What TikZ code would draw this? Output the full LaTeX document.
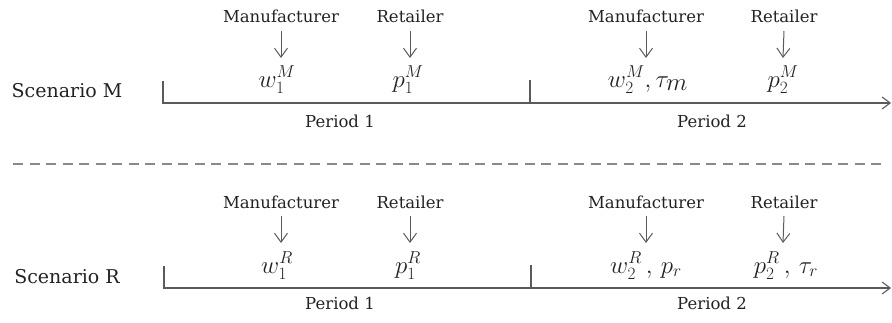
\documentclass[tikz,border=0pt]{standalone}
\usepackage{fontspec}
\setmainfont{DejaVu Serif}
\usetikzlibrary{arrows.meta}
\definecolor{linegray}{HTML}{5A5A5A}
\definecolor{dashgray}{HTML}{8A8A8A}
\definecolor{txt}{HTML}{222222}
\begin{document}
\begin{tikzpicture}[x=1pt,y=-1pt,
  lbl/.style={inner sep=0pt,text=txt,font=\fontsize{16.5}{20}\selectfont},
  scen/.style={inner sep=0pt,text=txt,font=\fontsize{19}{22}\selectfont},
  mth/.style={inner sep=0pt,text=txt,anchor=base,font=\fontsize{23}{26}\selectfont},
  tl/.style={draw=linegray,line width=1.1pt},
  dn/.style={draw=linegray,line width=1pt,-{Straight Barb[length=9pt,width=13pt,line width=1pt]}},
  hd/.style={-{Straight Barb[length=8pt,width=12pt,line width=1.1pt]}}]
\useasboundingbox (0,0) rectangle (892,322);
% ---------- Scenario M ----------
\node[scen] (sm) at (67,91) {Scenario M};
\coordinate (m0) at (163,103);
\coordinate (m0t) at (163,81);
\coordinate (m1) at (530,103);
\coordinate (m1t) at (530,80);
\coordinate (mend) at (891,103);
\draw[tl] (m0t) -- (m0) -- (m1);
\draw[tl,hd] (m1) -- (mend);
\draw[tl] (m1t) -- (m1);
\node[lbl] (mm1) at (281,16) {Manufacturer};
\node[lbl] (mr1) at (410,16) {Retailer};
\node[lbl] (mm2) at (646,16) {Manufacturer};
\node[lbl] (mr2) at (784,16) {Retailer};
\node[mth] (mw1) at (277,87) {$w_1^M$};
\node[mth] (mp1) at (408,87) {$p_1^M$};
\node[mth] (mw2) at (648,87) {$w_2^M,\tau_{\textstyle m}$};
\node[mth] (mp2) at (783,87) {$p_2^M$};
\coordinate (ma1) at (281,58);
\coordinate (ma2) at (410,58);
\coordinate (ma3) at (646,58);
\coordinate (ma4) at (783,58);
\draw[dn] (mm1.south |- 0,31) -- (ma1);
\draw[dn] (mr1.south |- 0,31) -- (ma2);
\draw[dn] (mm2.south |- 0,31) -- (ma3);
\draw[dn] (mr2.south |- 0,31) -- (ma4);
\node[lbl] (mper1) at (340,121) {Period 1};
\node[lbl] (mper2) at (712,121) {Period 2};
% ---------- separator ----------
\coordinate (d0) at (13,164);
\coordinate (d1) at (886,164);
\draw[draw=dashgray,line width=1.6pt,dash pattern=on 10pt off 6.5pt] (d0) -- (d1);
% ---------- Scenario R ----------
\node[scen] (sr) at (67,277) {Scenario R};
\coordinate (r0) at (164,288);
\coordinate (r0t) at (164,266);
\coordinate (r1) at (531,288);
\coordinate (r1t) at (531,265);
\coordinate (rend) at (891,288);
\draw[tl] (r0t) -- (r0) -- (r1);
\draw[tl,hd] (r1) -- (rend);
\draw[tl] (r1t) -- (r1);
\node[lbl] (rm1) at (281,202) {Manufacturer};
\node[lbl] (rr1) at (410,202) {Retailer};
\node[lbl] (rm2) at (646,202) {Manufacturer};
\node[lbl] (rr2) at (784,202) {Retailer};
\node[mth] (rw1) at (277,273) {$w_1^R$};
\node[mth] (rp1) at (408,273) {$p_1^R$};
\node[mth] (rw2) at (646,273) {$w_2^R\,,\,p_r$};
\node[mth] (rp2) at (786,273) {$p_2^R\,,\,\tau_r$};
\coordinate (ra1) at (281,243);
\coordinate (ra2) at (410,243);
\coordinate (ra3) at (646,243);
\coordinate (ra4) at (783,243);
\draw[dn] (rm1.south |- 0,216) -- (ra1);
\draw[dn] (rr1.south |- 0,216) -- (ra2);
\draw[dn] (rm2.south |- 0,216) -- (ra3);
\draw[dn] (rr2.south |- 0,216) -- (ra4);
\node[lbl] (rper1) at (340,303) {Period 1};
\node[lbl] (rper2) at (712,303) {Period 2};
\end{tikzpicture}
\end{document}
